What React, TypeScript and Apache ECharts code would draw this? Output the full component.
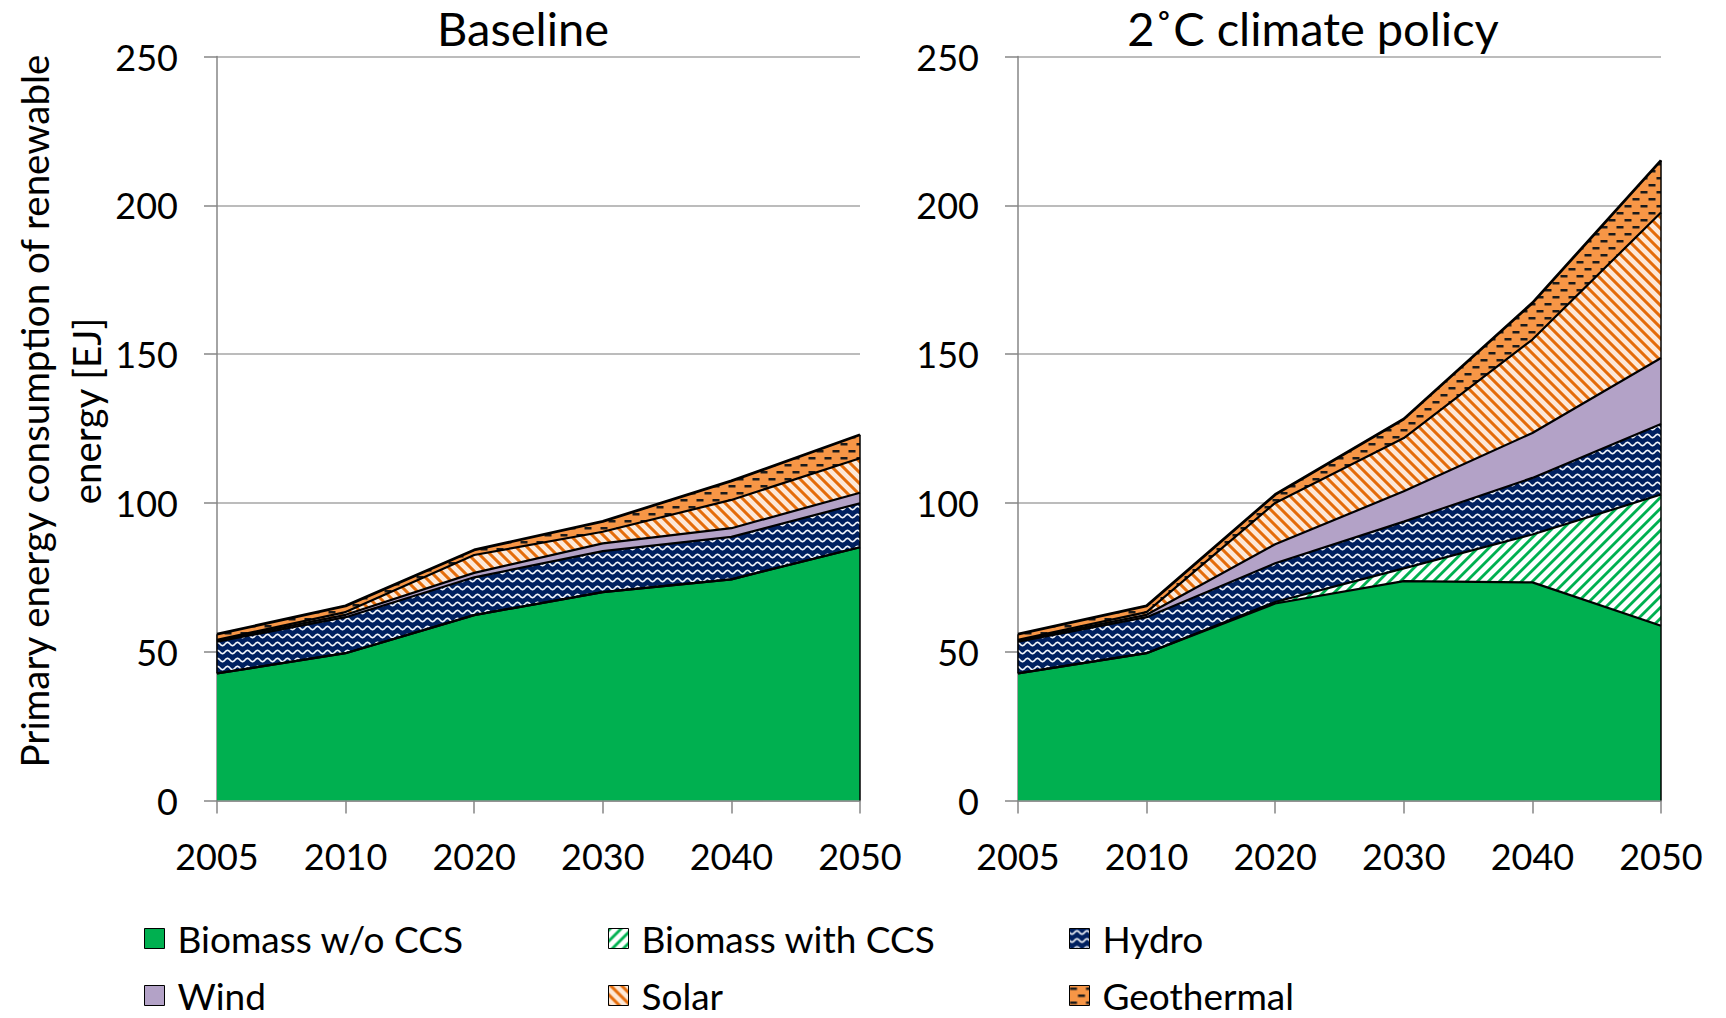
import React, { useEffect, useRef } from 'react';
import * as echarts from 'echarts';

// ---------- data ----------
const years = ['2005', '2010', '2020', '2030', '2040', '2050'];
const seriesNames = ['Biomass w/o CCS', 'Biomass with CCS', 'Hydro', 'Wind', 'Solar', 'Geothermal'];
const panelTitles = ['Baseline', '2\u02DAC climate policy'];
const yAxisName = 'Primary energy consumption of renewable\nenergy [EJ]';

const baselineBiomass = [42.7, 49.5, 62.3, 70.0, 74.3, 85.1];
const baselineBiomassCCS = [0, 0, 0, 0, 0, 0];
const baselineHydro = [10.7, 12.1, 12.7, 13.8, 14.3, 14.8];
const baselineWind = [0.3, 0.8, 1.5, 2.6, 2.9, 3.5];
const baselineSolar = [0.3, 0.9, 6.0, 3.9, 9.5, 11.6];
const baselineGeothermal = [1.9, 2.1, 1.7, 3.5, 6.4, 7.9];

const policyBiomass = [42.7, 49.5, 66.2, 73.7, 73.3, 58.7];
const policyBiomassCCS = [0, 0, 0.5, 4.3, 16.1, 44.1];
const policyHydro = [10.7, 12.1, 13.0, 15.7, 19.0, 23.7];
const policyWind = [0.3, 0.8, 6.4, 10.2, 15.1, 22.2];
const policySolar = [0.3, 0.9, 13.9, 17.9, 31.4, 48.9];
const policyGeothermal = [1.9, 2.1, 2.8, 6.4, 12.3, 17.5];

const yMin = 0;
const yMax = 250;
const yInterval = 50;

const panels = [
  [baselineBiomass, baselineBiomassCCS, baselineHydro, baselineWind, baselineSolar, baselineGeothermal],
  [policyBiomass, policyBiomassCCS, policyHydro, policyWind, policySolar, policyGeothermal],
];

// ---------- styling ----------
const FONT = 'Lato';
const AXIS_COLOR = '#868686';
const GRID_COLOR = '#a6a6a6';
const gridLefts = [217, 1018];
const gridTop = 56.5;
const gridWidth = 643;
const gridHeight = 744;
const titleCenters = [523, 1313];
const legendCols = [144, 608, 1069];
const legendRows = [938, 995];

type RGB = [number, number, number];
const hexToRgb = (h: string): RGB => [
  parseInt(h.slice(1, 3), 16),
  parseInt(h.slice(3, 5), 16),
  parseInt(h.slice(5, 7), 16),
];

function makePattern(w: number, h: number, fn: (x: number, y: number) => string) {
  const c = document.createElement('canvas');
  c.width = w;
  c.height = h;
  const ctx = c.getContext('2d')!;
  const img = ctx.createImageData(w, h);
  const S = 4;
  const cache: Record<string, RGB> = {};
  for (let y = 0; y < h; y++) {
    for (let x = 0; x < w; x++) {
      let r = 0, g = 0, b = 0;
      for (let j = 0; j < S; j++) {
        for (let i = 0; i < S; i++) {
          const col = fn(x + (i + 0.5) / S, y + (j + 0.5) / S);
          const rgb = cache[col] || (cache[col] = hexToRgb(col));
          r += rgb[0]; g += rgb[1]; b += rgb[2];
        }
      }
      const k = (y * w + x) * 4;
      img.data[k] = Math.round(r / (S * S));
      img.data[k + 1] = Math.round(g / (S * S));
      img.data[k + 2] = Math.round(b / (S * S));
      img.data[k + 3] = 255;
    }
  }
  ctx.putImageData(img, 0, 0);
  return { image: c.toDataURL(), repeat: 'repeat', imageWidth: w, imageHeight: h } as any;
}

function buildFills() {
  const mod = (a: number, m: number) => ((a % m) + m) % m;
  const ccs = makePattern(11, 11, (x, y) => (mod(x + y, 11) < 3.8 ? '#00B050' : '#FFFFFF'));
  const solar = makePattern(11, 11, (x, y) => (mod(x - y, 11) < 4.2 ? '#E46C0A' : '#FDE9D9'));
  const WP = 10, HP = 8, A = 1.6;
  const hydro = makePattern(WP, HP, (x, y) => {
    const yc = HP / 2 + A * Math.sin((2 * Math.PI * x) / WP);
    const slope = A * ((2 * Math.PI) / WP) * Math.cos((2 * Math.PI * x) / WP);
    let dy = y - yc;
    dy = mod(dy + HP / 2, HP) - HP / 2;
    const dist = Math.abs(dy) / Math.sqrt(1 + slope * slope);
    return dist < 0.8 ? '#F4F6FA' : '#002060';
  });
  const geo = makePattern(16, 14, (x, y) =>
    (y >= 2 && y < 4.5 && x >= 0.5 && x < 7.5) || (y >= 9 && y < 11.5 && x >= 8.5 && x < 15.5)
      ? '#1a1a1a'
      : '#F79646'
  );
  return ['#00B050', ccs, hydro, '#B3A2C7', solar, geo];
}

const baseColors = ['#00B050', '#00B050', '#002060', '#B3A2C7', '#E46C0A', '#F79646'];

export default function App() {
  const ref = useRef<HTMLDivElement>(null);

  useEffect(() => {
    const chart = echarts.init(ref.current!, null, { renderer: 'svg' });
    const fills = buildFills();

    const grids = gridLefts.map((left) => ({ left, top: gridTop, width: gridWidth, height: gridHeight }));

    const xAxes = gridLefts.map((_, gi) => ({
      type: 'category',
      gridIndex: gi,
      data: years,
      boundaryGap: false,
      axisLine: { show: true, lineStyle: { color: AXIS_COLOR, width: 1.5 } },
      axisTick: { show: true, length: 13, lineStyle: { color: AXIS_COLOR, width: 1.5 } },
      axisLabel: { fontFamily: FONT, fontSize: 36, color: '#000', margin: 37 },
      splitLine: { show: false },
    }));

    const yAxes = gridLefts.map((_, gi) => ({
      type: 'value',
      gridIndex: gi,
      min: yMin,
      max: yMax,
      interval: yInterval,
      axisLine: { show: true, lineStyle: { color: AXIS_COLOR, width: 1.5 } },
      axisTick: { show: true, length: 13, lineStyle: { color: AXIS_COLOR, width: 1.5 } },
      axisLabel: { fontFamily: FONT, fontSize: 36, color: '#000', margin: 39 },
      splitLine: { show: true, lineStyle: { color: GRID_COLOR, width: 1.5 } },
    }));

    const series: any[] = [];
    panels.forEach((arrs, gi) => {
      arrs.forEach((d, si) => {
        series.push({
          type: 'line',
          name: seriesNames[si],
          xAxisIndex: gi,
          yAxisIndex: gi,
          stack: 'area' + gi,
          data: d,
          symbol: 'none',
          showSymbol: false,
          silent: true,
          z: 2,
          itemStyle: { color: baseColors[si] },
          lineStyle: { width: 0, opacity: 0 },
          areaStyle: { color: fills[si], opacity: 1 },
          emphasis: { disabled: true },
        });
      });
      const totals = years.map((_, i) => arrs.reduce((s, a) => s + a[i], 0));
      arrs.forEach((d, si) => {
        const isTop = si === arrs.length - 1;
        series.push({
          type: 'line',
          name: seriesNames[si] + ' outline',
          xAxisIndex: gi,
          yAxisIndex: gi,
          stack: 'outline' + gi,
          data: d,
          symbol: 'none',
          showSymbol: false,
          silent: true,
          z: 3,
          lineStyle: { color: '#000', width: isTop ? 2.8 : 2.2 },
          emphasis: { disabled: true },
          markLine: isTop
            ? {
                silent: true,
                symbol: 'none',
                label: { show: false },
                lineStyle: { color: '#000', width: 1.5, type: 'solid' },
                data: [
                  [{ coord: [years.length - 1, 0] }, { coord: [years.length - 1, totals[years.length - 1]] }],
                  [{ coord: [0, arrs[0][0]] }, { coord: [0, totals[0]] }],
                ],
              }
            : undefined,
        });
      });
    });

    const LEGEND_LH = 36;
    const legends = seriesNames.map((name, i) => ({
      left: legendCols[i % 3],
      top: legendRows[Math.floor(i / 3)] - LEGEND_LH / 2,
      orient: 'horizontal',
      padding: 0,
      itemWidth: 20,
      itemHeight: 20,
      icon: 'rect',
      selectedMode: false,
      textStyle: { fontFamily: FONT, fontSize: 37, lineHeight: LEGEND_LH, color: '#000', padding: [0, 0, 0, 8] },
      data: [{ name, itemStyle: { color: fills[i], borderColor: '#000', borderWidth: 1 } }],
    }));

    const option: any = {
      animation: false,
      backgroundColor: '#ffffff',
      title: panelTitles.map((text, i) => ({
        text,
        left: titleCenters[i],
        top: 4,
        textAlign: 'center',
        padding: 0,
        textStyle: { fontFamily: FONT, fontSize: 47, fontWeight: 'normal', color: '#000' },
      })),
      legend: legends,
      grid: grids,
      xAxis: xAxes,
      yAxis: yAxes,
      series,
      graphic: [
        {
          type: 'text',
          x: 60,
          y: 411,
          rotation: Math.PI / 2,
          style: {
            text: yAxisName,
            fontFamily: FONT,
            fontSize: 38.5,
            lineHeight: 52,
            fill: '#000',
            align: 'center',
            verticalAlign: 'middle',
          },
        },
      ],
    };

    chart.setOption(option);
    return () => chart.dispose();
  }, []);

  return (
    <div
      ref={ref}
      style={{ position: 'fixed', left: 0, top: 0, width: 1726, height: 1018, background: '#fff' }}
    />
  );
}
